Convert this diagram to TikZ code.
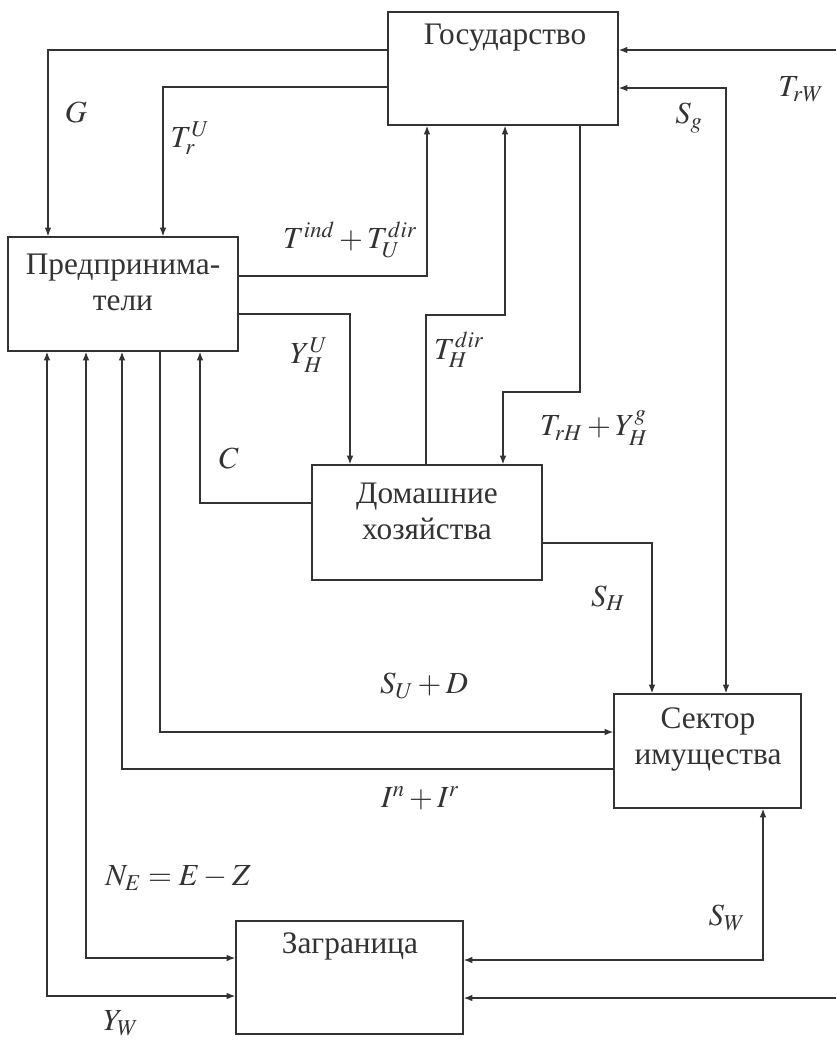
\documentclass[tikz,border=0pt]{standalone}
\usepackage{mathptmx}
\usepackage{fontspec}
\setmainfont{Liberation Serif}
\usetikzlibrary{arrows.meta}
\definecolor{ink}{HTML}{333333}
\tikzset{
  box/.style={draw=ink, line width=1pt, inner sep=0pt},
  txt/.style={text=ink, font=\fontsize{23.5}{27}\selectfont, align=center, inner sep=0pt},
  lbl/.style={text=ink, font=\fontsize{23}{27}\selectfont, inner sep=0pt},
  flow/.style={draw=ink, line width=1pt, -{Latex[length=6.5pt,width=5pt]}},
  biflow/.style={draw=ink, line width=1pt, {Latex[length=6.5pt,width=5pt]}-{Latex[length=6.5pt,width=5pt]}},
}
\begin{document}
\begin{tikzpicture}[x=0.75pt,y=-0.75pt]
\useasboundingbox (0,0) rectangle (836,1043);
% boxes
\node[box, minimum width=230*0.75pt, minimum height=113*0.75pt] (gov) at (503,68.5) {};
\node[box, minimum width=230*0.75pt, minimum height=114*0.75pt] (pred) at (123,294) {};
\node[box, minimum width=230*0.75pt, minimum height=115*0.75pt] (hh) at (427,522.5) {};
\node[box, minimum width=187*0.75pt, minimum height=114*0.75pt] (sek) at (707.5,751) {};
\node[box, minimum width=227*0.75pt, minimum height=113*0.75pt] (zag) at (349.5,977.5) {};
% box texts
\node[txt] (govt) at (505,38) {Государство};
\node[txt] (predt) at (123,282) {Предпринима-\\тели};
\node[txt] (hht) at (427,511) {Домашние\\хозяйства};
\node[txt] (sekt) at (708,739) {Сектор\\имущества};
\node[txt] (zagt) at (350,946) {Заграница};
% free ends
\coordinate (rw1) at (836,50);
\coordinate (rw2) at (836,998);
% connectors
\draw[flow] (gov.west |- 0,50) -- (48,50) -- (48,0 |- pred.north);
\draw[flow] (gov.west |- 0,87) -- (163,87) -- (163,0 |- pred.north);
\draw[flow] (pred.east |- 0,276) -- (427,276) -- (427,0 |- gov.south);
\draw[flow] (pred.east |- 0,314) -- (350,314) -- (350,0 |- hh.north);
\draw[flow] (hh.west |- 0,503) -- (200,503) -- (200,0 |- pred.south);
\draw[flow] (426,0 |- hh.north) -- (426,315) -- (505,315) -- (505,0 |- gov.south);
\draw[flow] (580,0 |- gov.south) -- (580,392) -- (503,392) -- (503,0 |- hh.north);
\draw[biflow] (gov.east |- 0,88) -- (726,88) -- (726,0 |- sek.north);
\draw[flow] (rw1) -- (gov.east |- rw1);
\draw[flow] (hh.east |- 0,543) -- (652,543) -- (652,0 |- sek.north);
\draw[flow] (160,0 |- pred.south) -- (160,732) -- (sek.west |- 0,732);
\draw[flow] (sek.west |- 0,769) -- (122,769) -- (122,0 |- pred.south);
\draw[biflow] (86,0 |- pred.south) -- (86,958) -- (zag.west |- 0,958);
\draw[biflow] (47,0 |- pred.south) -- (47,996) -- (zag.west |- 0,996);
\draw[biflow] (763,0 |- sek.south) -- (763,960) -- (zag.east |- 0,960);
\draw[flow] (rw2) -- (zag.east |- rw2);
% labels
\node[lbl] (lG) at (76,112) {$G$};
\node[lbl] (lTr) at (190,138) {$T_r^U$};
\node[lbl] (lTind) at (350,240) {$T^{ind}+T_U^{dir}$};
\node[lbl] (lYH) at (309,355) {$Y_H^U$};
\node[lbl] (lTH) at (459,350) {$T_H^{dir}$};
\node[lbl] (lTrH) at (594,428) {$T_{rH}+Y_H^g$};
\node[lbl] (lC) at (229,458) {$C$};
\node[lbl] (lSH) at (608,598) {$S_H$};
\node[lbl] (lSU) at (424,686) {$S_U+D$};
\node[lbl] (lI) at (420,798) {$I^n+I^r$};
\node[lbl] (lNE) at (178,878) {$N_E=E-Z$};
\node[lbl] (lSW) at (727,918) {$S_W$};
\node[lbl] (lYW) at (121,1023) {$Y_W$};
\node[lbl] (lTrW) at (801,89) {$T_{rW}$};
\node[lbl] (lSg) at (689,118) {$S_g$};
\end{tikzpicture}
\end{document}
